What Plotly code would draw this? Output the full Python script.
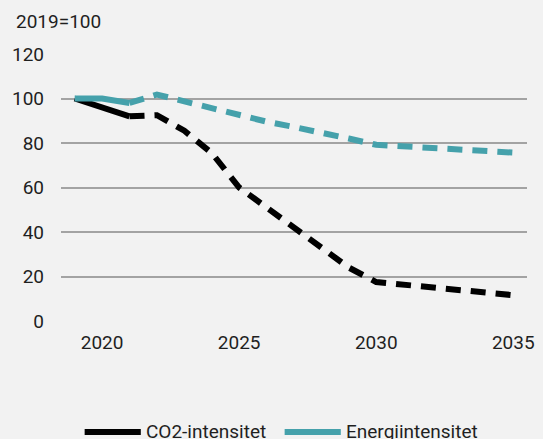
import plotly.graph_objects as go

years = list(range(2019, 2036))
co2 = [100, 96, 92, 92.5, 85.5, 75.5, 60, 51, 41.5, 32.5, 24, 17.5, 16.3, 15.1, 13.9, 12.7, 11.6]
energi = [100, 100, 98, 101.8, 98.7, 95.7, 92.3, 89.6, 87.2, 84.9, 82, 79.2, 78.6, 77.8, 77.2, 76.4, 75.7]
names = ["CO2-intensitet", "Energiintensitet"]
colors = ["#000000", "#45a1ab"]
x_ticks = [2020, 2025, 2030, 2035]
y_ticks = [0, 20, 40, 60, 80, 100, 120]
index_label = "2019=100"
n_hist = 3  # 2019-2021 solid

W, H = 543, 439
L, R, T, B = 61, 534, 54, 321
FONT = dict(family="Roboto", size=19, color="#1f1f1f")

def px(x):
    return (x - L) / (R - L)

def py(y):
    return (B - y) / (B - T)

fig = go.Figure()
for vals, col in zip([co2, energi], colors):
    fig.add_trace(go.Scatter(x=years[:n_hist], y=vals[:n_hist], mode="lines",
                             line=dict(color=col, width=6), showlegend=False, hoverinfo="skip"))
    fig.add_trace(go.Scatter(x=years[n_hist - 1:], y=vals[n_hist - 1:], mode="lines",
                             line=dict(color=col, width=6, dash="15px,10px"), showlegend=False))

shapes = []
annotations = [dict(text=index_label, xref="paper", yref="paper", x=px(13), y=py(22),
                    xanchor="left", yanchor="middle", showarrow=False, font=FONT)]
leg = [(85, 142, 145), (288, 345, 348)]
for (x0, x1, xt), name, col in zip(leg, names, colors):
    shapes.append(dict(type="line", xref="paper", yref="paper", x0=px(x0), x1=px(x1),
                       y0=py(432), y1=py(432), line=dict(color=col, width=6)))
    annotations.append(dict(text=name, xref="paper", yref="paper", x=px(xt), y=py(431),
                            xanchor="left", yanchor="middle", showarrow=False, font=FONT))

fig.update_layout(
    width=W, height=H,
    margin=dict(l=L, r=W - R, t=T, b=H - B, pad=0),
    paper_bgcolor="#f2f2f2", plot_bgcolor="#f2f2f2",
    font=FONT, showlegend=False,
    shapes=shapes, annotations=annotations,
    xaxis=dict(range=[2018.5, 2035.5], tickvals=x_ticks, showgrid=False, zeroline=False,
               showline=False, ticks="", ticklabelstandoff=8),
    yaxis=dict(range=[0, 120], tickvals=y_ticks, showgrid=True, gridcolor="#a3a3a3",
               gridwidth=1.5, zeroline=False, showline=False, ticks="", ticklabelstandoff=16),
)
fig.write_html("out.html", config={"displayModeBar": False},
               post_script="document.body.style.margin='0';document.body.style.overflow='hidden';")
